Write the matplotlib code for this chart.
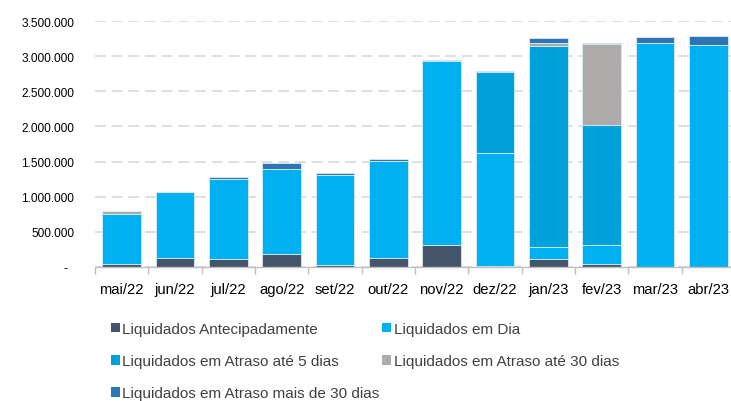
import matplotlib
matplotlib.use("Agg")
import matplotlib.pyplot as plt
import numpy as np
from matplotlib.patches import Patch
from matplotlib.ticker import FuncFormatter

plt.rcParams['font.family'] = ['Liberation Sans', 'DejaVu Sans']

meses = ['mai/22', 'jun/22', 'jul/22', 'ago/22', 'set/22', 'out/22',
         'nov/22', 'dez/22', 'jan/23', 'fev/23', 'mar/23', 'abr/23']

antecipado = [39000, 126000, 116000, 189000, 24000, 132000,
              306000, 10000, 108000, 38000, 0, 0]
em_dia = [713000, 940000, 1132000, 1206000, 1286000, 1378000,
          2619000, 1617000, 175000, 273000, 3184000, 3165000]
atraso_5 = [0, 0, 0, 0, 0, 0,
            0, 1151000, 2868000, 1703000, 0, 0]
atraso_30 = [43000, 0, 0, 0, 0, 0,
             0, 0, 42000, 1165000, 0, 0]
atraso_mais30 = [0, 5000, 28000, 81000, 23000, 33000,
                 23000, 15000, 62000, 5000, 90000, 123000]

series = [
    ('Liquidados Antecipadamente', antecipado, '#44546A'),
    ('Liquidados em Dia', em_dia, '#00B0F0'),
    ('Liquidados em Atraso até 5 dias', atraso_5, '#00A2DC'),
    ('Liquidados em Atraso até 30 dias', atraso_30, '#AEAAAA'),
    ('Liquidados em Atraso mais de 30 dias', atraso_mais30, '#2E75B6'),
]

fig = plt.figure(figsize=(7.31, 4.02), dpi=100)
ax = fig.add_axes([95 / 731, 134 / 402, 640 / 731, 246 / 402])

x = np.arange(len(meses))
bottom = np.zeros(len(meses))
handles = {}
for nome, vals, cor in series:
    vals = np.array(vals, dtype=float)
    ax.bar(x, vals, width=0.72, bottom=bottom, color=cor,
           edgecolor='#d6ecf7', linewidth=0.6, zorder=3)
    bottom += vals
    handles[nome] = Patch(facecolor=cor, edgecolor='none')

ax.set_xlim(-0.5, 11.5)
ax.set_ylim(0, 3500000)

# grade tracejada
ax.set_yticks(np.arange(0, 3500001, 500000))
ax.yaxis.grid(True, color='#d9d9d9', linewidth=1.2, linestyle=(0, (6.5, 3.5)), zorder=0)
def fmt(v, pos):
    if v == 0:
        return '-  '
    return f"{v:,.0f}".replace(',', '.')
ax.yaxis.set_major_formatter(FuncFormatter(fmt))
ax.tick_params(axis='y', length=0, pad=15, labelsize=8.6, labelcolor='#000000')

ax.set_xticks(x)
ax.set_xticklabels(meses)
ax.tick_params(axis='x', which='major', length=0, pad=11, labelsize=10.6)
ax.set_xticks(np.arange(-0.5, 12, 1), minor=True)
ax.tick_params(axis='x', which='minor', length=5, color='#bfbfbf', width=1)

for s in ['top', 'right', 'left']:
    ax.spines[s].set_visible(False)
ax.spines['bottom'].set_color('#bfbfbf')
ax.spines['bottom'].set_linewidth(1.0)
ax.spines['bottom'].set_zorder(4)

ordem = ['Liquidados Antecipadamente', 'Liquidados em Atraso até 5 dias',
         'Liquidados em Atraso mais de 30 dias', 'Liquidados em Dia',
         'Liquidados em Atraso até 30 dias']
leg = fig.legend([handles[n] for n in ordem], ordem, ncol=2,
                 loc='upper left', bbox_to_anchor=(111 / 731, 1 - 323 / 402),
                 frameon=False, fontsize=11, handlelength=0.58, handleheight=0.58,
                 handletextpad=0.15, columnspacing=0.2, labelspacing=1.19,
                 borderpad=0, borderaxespad=0)
for t in leg.get_texts():
    t.set_color('#404040')

fig.savefig('out.png', dpi=100)
